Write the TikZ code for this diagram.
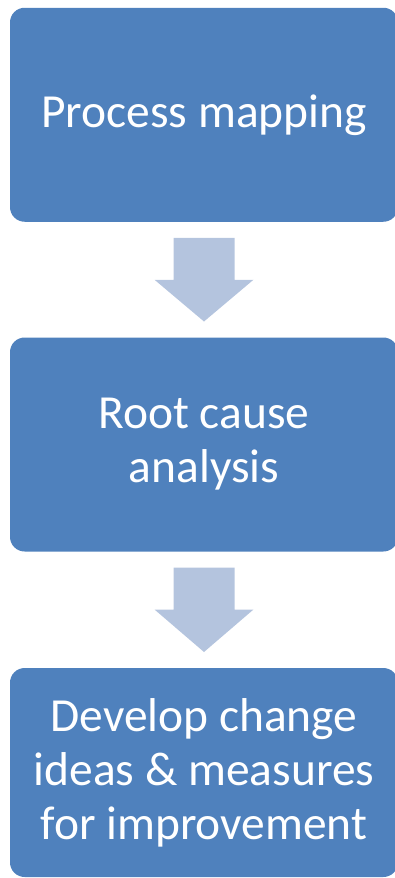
\documentclass[tikz,border=0pt]{standalone}
\usepackage{fontspec}
\setmainfont{Carlito}
\usetikzlibrary{calc}

\definecolor{boxblue}{RGB}{79,129,189}
\definecolor{arrowblue}{RGB}{180,196,222}

\begin{document}
\begin{tikzpicture}[x=0.75pt,y=0.75pt,yscale=-1,xscale=1,
    stepbox/.style={fill=boxblue,rounded corners=11pt,minimum width=291pt,minimum height=160.5pt,inner sep=0pt,outer sep=0pt,
        text=white,align=center,font=\fontsize{35.6pt}{40.5pt}\selectfont},
    downarrow/.style={fill=arrowblue,draw=none}]
    %set diagram size to 395 x 878
    \useasboundingbox (0,0) rectangle (395,878);

    %Shape: Rounded Rectangle [id:map]
    \node [stepbox] (map) at (204,114.75) {Process mapping};
    %Shape: Rounded Rectangle [id:root]
    \node [stepbox] (root) at (204,444.5) {Root cause\\analysis};
    %Shape: Rounded Rectangle [id:ideas]
    \node [stepbox,minimum height=156.75pt] (ideas) at (204,772.5) {Develop change\\ideas \& measures\\for improvement};

    %Shape: Down Arrow [id:maptoroot]
    \fill [downarrow] ($(map.south)+(-30.5,16)$) -- ($(map.south)+(30.5,16)$) -- ($(map.south)+(30.5,58)$) -- ($(map.south)+(49.5,58)$)
        -- ($(root.north)+(0,-16)$) -- ($(map.south)+(-49.5,58)$) -- ($(map.south)+(-30.5,58)$) -- cycle ;
    %Shape: Down Arrow [id:roottoideas]
    \fill [downarrow] ($(root.south)+(-30.5,16)$) -- ($(root.south)+(30.5,16)$) -- ($(root.south)+(30.5,58)$) -- ($(root.south)+(49.5,58)$)
        -- ($(ideas.north)+(0,-16)$) -- ($(root.south)+(-49.5,58)$) -- ($(root.south)+(-30.5,58)$) -- cycle ;
\end{tikzpicture}
\end{document}
